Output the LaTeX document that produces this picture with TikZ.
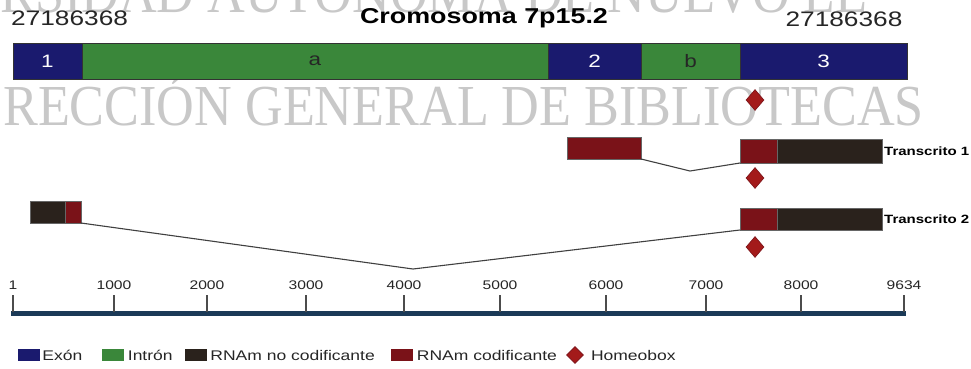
\documentclass[tikz,border=0pt]{standalone}
\usepackage{fontspec}
\setmainfont{Liberation Sans}[FakeStretch=1.25]
\newfontfamily\wmfont{Liberation Serif}[FakeStretch=0.9]
\usepackage{xcolor}
\usepackage{tikz}
\usetikzlibrary{shapes.geometric, positioning}
\definecolor{exonblue}{HTML}{1A1A6E}
\definecolor{introngreen}{HTML}{3A873A}
\definecolor{codingred}{HTML}{7A1218}
\definecolor{noncodingbrown}{HTML}{2A221C}
\definecolor{homeored}{HTML}{A31A1A}
\definecolor{axisblue}{HTML}{1B3A57}
\definecolor{wmgray}{HTML}{C8C8C8}
\tikzstyle{segment} = [rectangle, draw=black!80, line width=0.8pt, inner sep=0pt, outer sep=0pt, minimum height=36pt, text=white, font=\fontsize{18}{18}\selectfont]
\tikzstyle{exon} = [segment, fill=exonblue]
\tikzstyle{intron} = [segment, fill=introngreen, text=black!85]
\tikzstyle{coding} = [rectangle, fill=codingred, draw=black!60, line width=0.5pt, inner sep=0pt, outer sep=0pt]
\tikzstyle{noncoding} = [rectangle, fill=noncodingbrown, draw=black!60, line width=0.5pt, inner sep=0pt, outer sep=0pt]
\tikzstyle{homeo} = [diamond, fill=homeored, draw=codingred, line width=0.6pt, inner sep=0pt, minimum width=18pt, minimum height=21pt]
\tikzstyle{splice} = [line width=1.1pt, color=black!75]
\tikzstyle{axisline} = [line width=5pt, color=axisblue]
\tikzstyle{tickmark} = [line width=1.6pt, color=black!70]
\tikzstyle{ticklabel} = [font=\fontsize{12.5}{13}\selectfont, inner sep=0pt, text=black!85]
\tikzstyle{translabel} = [font=\bfseries\fontsize{12}{12}\selectfont, inner sep=0pt, anchor=west]
\tikzstyle{coordlabel} = [font=\fontsize{21}{21}\selectfont, inner sep=0pt, text=black!85]
\tikzstyle{legswatch} = [rectangle, inner sep=0pt, minimum width=22pt, minimum height=12pt]
\tikzstyle{legtext} = [font=\fontsize{14}{14}\selectfont, inner sep=0pt, anchor=west, text=black!85]
\tikzstyle{watermark} = [font=\wmfont\fontsize{58}{58}\selectfont, inner sep=0pt, text=wmgray, anchor=base west]

\begin{document}
\begin{tikzpicture}[x=1pt, y=-1pt]
\fill[white] (0,0) rectangle (971,368);
\useasboundingbox (0,0) rectangle (971,368);

% watermark of the scan
\node (wm1) [watermark] at (0,12) {RSIDAD AUTÓNOMA DE NUEVO LE};
\node (wm2) [watermark] at (3,125) {RECCIÓN GENERAL DE BIBLIOTECAS};

% chromosome
\node (pos0) [coordlabel, anchor=west] at (11,18) {27186368};
\node (title) [font=\bfseries\fontsize{21.5}{21.5}\selectfont, inner sep=0pt] at (484,18) {Cromosoma 7p15.2};
\node (pos1) [coordlabel] at (844,19) {27186368};

\node (e1) [exon, minimum width=69pt] at (47.5,61) {1};
\node (ia) [intron, minimum width=466pt, right=0pt of e1] {a};
\node (e2) [exon, minimum width=93pt, right=0pt of ia] {2};
\node (ib) [intron, minimum width=99pt, right=0pt of e2] {b};
\node (e3) [exon, minimum width=167pt, right=0pt of ib] {3};
\node (hb0) [homeo] at (755,100) {};

% transcript 1
\node (t1a) [coding, minimum width=74pt, minimum height=22pt] at (604,148) {};
\node (t1b) [coding, minimum width=37pt, minimum height=24pt] at (758.5,151) {};
\node (t1c) [noncoding, minimum width=105pt, minimum height=24pt, right=0pt of t1b] {};
\node (lab1) [translabel, right=2pt of t1c] {Transcrito 1};
\coordinate (t1j) at (690,171);
\draw[splice] (t1a.south east) -- (t1j) -- (t1b.south west);
\node (hb1) [homeo] at (755,178) {};

% transcript 2
\node (t2a) [noncoding, minimum width=35pt, minimum height=22pt] at (47.5,212) {};
\node (t2b) [coding, minimum width=16pt, minimum height=22pt, right=0pt of t2a] {};
\node (t2c) [coding, minimum width=37pt, minimum height=22pt] at (758.5,219) {};
\node (t2d) [noncoding, minimum width=105pt, minimum height=22pt, right=0pt of t2c] {};
\node (lab2) [translabel, right=2pt of t2d] {Transcrito 2};
\coordinate (t2j) at (413,269);
\draw[splice] (t2b.south east) -- (t2j) -- (t2c.south west);
\node (hb2) [homeo] at (755,247) {};

% scale
\coordinate (ax0) at (11,313);
\coordinate (ax1) at (906,313);
\draw[axisline] (ax0) -- (ax1);
\foreach \xp/\lab in {13/1, 114/1000, 207/2000, 306/3000, 404/4000, 500/5000, 606/6000, 706/7000, 801/8000, 904/9634} {
  \draw[tickmark] (\xp,312) -- (\xp,295);
  \node (tk\lab) [ticklabel] at (\xp,285) {\lab};
}

% legend
\node (sw1) [legswatch, fill=exonblue] at (29,355) {};
\node (lt1) [legtext, right=2pt of sw1] {Exón};
\node (sw2) [legswatch, fill=introngreen] at (112.5,355) {};
\node (lt2) [legtext, right=4pt of sw2] {Intrón};
\node (sw3) [legswatch, fill=noncodingbrown] at (196,355) {};
\node (lt3) [legtext, right=3pt of sw3] {RNAm no codificante};
\node (sw4) [legswatch, fill=codingred] at (401.5,355) {};
\node (lt4) [legtext, right=4pt of sw4] {RNAm codificante};
\node (sw5) [homeo, minimum width=17pt, minimum height=17pt] at (575,355) {};
\node (lt5) [legtext, right=7pt of sw5] {Homeobox};
\end{tikzpicture}
\end{document}
